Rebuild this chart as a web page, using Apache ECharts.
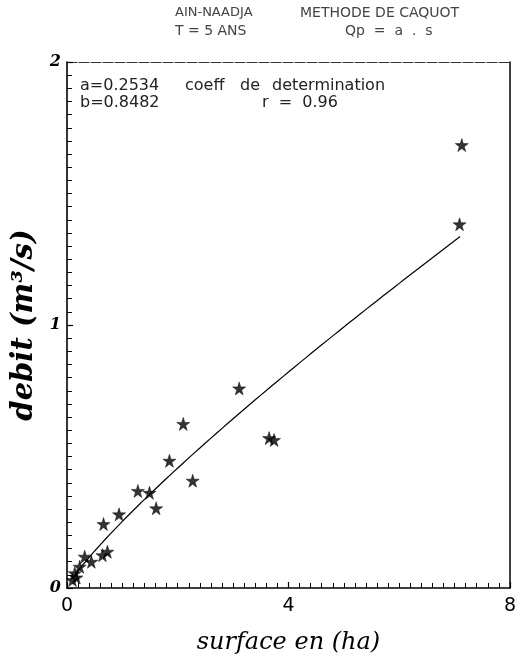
<!DOCTYPE html>
<html>
<head>
<meta charset="utf-8">
<script src="https://cdn.jsdelivr.net/npm/echarts@6/dist/echarts.min.js"></script>
<style>
  html, body { margin: 0; padding: 0; background: #fff; }
  #chart { width: 519px; height: 665px; }
</style>
</head>
<body>
<div id="chart"></div>
<script>
// Observed peak discharge (m3/s) against catchment surface (ha)
const surfaceHa = [7.13, 7.09, 3.11, 2.10, 3.65, 3.74, 1.85, 2.27, 1.28, 1.49, 1.61,
                   0.94, 0.66, 0.73, 0.64, 0.32, 0.44, 0.23, 0.14, 0.10, 0.17];
const debitM3s  = [1.684, 1.383, 0.759, 0.624, 0.570, 0.563, 0.484, 0.408, 0.369, 0.362, 0.303,
                   0.280, 0.243, 0.138, 0.125, 0.119, 0.100, 0.081, 0.056, 0.030, 0.040];

// Caquot power-law fit Qp = a . s^b (coefficients as printed on the chart)
const coefA = 0.2534;
const coefB = 0.8482;
const fitRange = [0.1, 7.1];

const xTicks = [0, 4, 8];
const yTicks = [0, 1, 2];

const observed = surfaceHa.map((s, i) => [s, debitM3s[i]]);
const fitCurve = [];
for (let k = 0; k <= 70; k++) {
  const s = fitRange[0] + (fitRange[1] - fitRange[0]) * k / 70;
  fitCurve.push([s, coefA * Math.pow(s, coefB)]);
}

const star = 'path://M50,0 L61,35 L98,35 L68,57 L79,91 L50,70 L21,91 L32,57 L2,35 L39,35 Z';
const sansFont = '"DejaVu Sans", sans-serif';
const serifFont = '"DejaVu Serif", "Liberation Serif", serif';

function label(text, left, top, size, fill) {
  return { type: 'text', left: left, top: top,
           style: { text: text, font: size + 'px ' + sansFont, fill: fill } };
}

const chart = echarts.init(document.getElementById('chart'), null, { renderer: 'canvas' });
chart.setOption({
  animation: false,
  backgroundColor: '#ffffff',
  grid: { left: 67, right: 6, top: 62, bottom: 77 },
  xAxis: [{
    type: 'value', min: xTicks[0], max: xTicks[xTicks.length - 1], interval: 4,
    axisLine: { onZero: false, lineStyle: { color: '#000', width: 1.6 } },
    axisTick: { inside: true, length: 6, lineStyle: { color: '#000', width: 1.2 } },
    minorTick: { show: true, splitNumber: 20, length: 5, lineStyle: { color: '#000', width: 1 } },
    splitLine: { show: false },
    axisLabel: { margin: 9, color: '#000', fontFamily: sansFont, fontSize: 19 },
    name: 'surface en (ha)', nameLocation: 'middle', nameGap: 43,
    nameTextStyle: { fontFamily: serifFont, fontStyle: 'italic', fontSize: 24, color: '#000' }
  }, {
    type: 'value', position: 'top', min: 0, max: 8,
    axisLine: { show: true, onZero: false, lineStyle: { color: '#333', width: 1.2, type: [10, 2] } },
    axisTick: { show: false }, axisLabel: { show: false }, splitLine: { show: false }
  }],
  yAxis: [{
    type: 'value', min: yTicks[0], max: yTicks[yTicks.length - 1], interval: 1,
    axisLine: { onZero: false, lineStyle: { color: '#000', width: 1.6 } },
    axisTick: { inside: true, length: 6, lineStyle: { color: '#000', width: 1.2 } },
    minorTick: { show: true, splitNumber: 20, length: 5, lineStyle: { color: '#000', width: 1 } },
    splitLine: { show: false },
    axisLabel: { margin: 6, color: '#000', fontFamily: serifFont, fontStyle: 'italic', fontWeight: 'bold', fontSize: 16 },
    name: 'debit (m³/s)', nameLocation: 'middle', nameGap: 26, nameRotate: 90,
    nameTextStyle: { fontFamily: serifFont, fontStyle: 'italic', fontWeight: 'bold', fontSize: 29, color: '#000' }
  }, {
    type: 'value', position: 'right', min: 0, max: 2,
    axisLine: { show: true, onZero: false, lineStyle: { color: '#111', width: 1.6 } },
    axisTick: { show: false }, axisLabel: { show: false }, splitLine: { show: false }
  }],
  series: [{
    type: 'line', data: fitCurve, showSymbol: false, symbol: 'none',
    lineStyle: { color: '#000', width: 1.2 }, z: 2
  }, {
    type: 'scatter', data: observed, symbol: star, symbolSize: 13,
    itemStyle: { color: '#000', borderColor: '#000', borderWidth: 0.6 }, z: 3
  }],
  graphic: [
    label('AIN-NAADJA', 175, 6, 13, '#444'),
    label('METHODE DE CAQUOT', 300, 6, 14, '#444'),
    label('T = 5 ANS', 175, 24, 14, '#444'),
    label('Qp  =  a  .  s', 345, 24, 14, '#444'),
    label('a=0.2534', 80, 78, 16, '#222'),
    label('coeff', 185, 78, 16, '#222'),
    label('de', 240, 78, 16, '#222'),
    label('determination', 272, 78, 16, '#222'),
    label('b=0.8482', 80, 95, 16, '#222'),
    label('r  =  0.96', 262, 95, 16, '#222')
  ]
});
</script>
</body>
</html>
